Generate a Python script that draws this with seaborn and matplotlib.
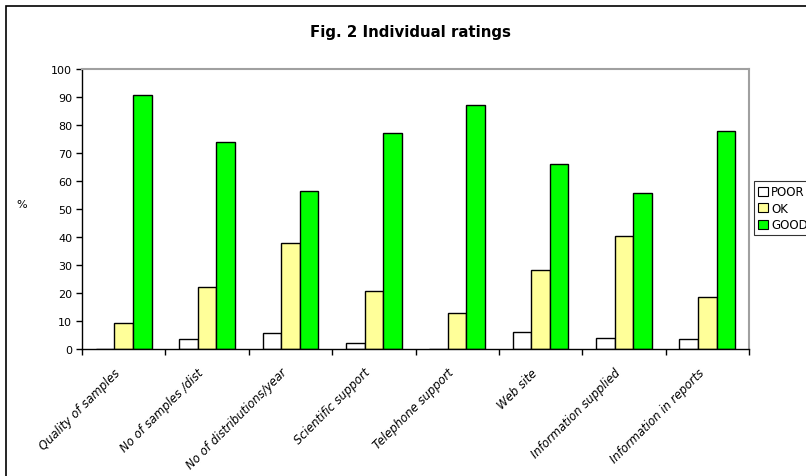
import numpy as np
import pandas as pd
import matplotlib
matplotlib.use('Agg')
import matplotlib.pyplot as plt
import matplotlib.transforms as mtransforms
import seaborn as sns
from matplotlib.patches import Rectangle

# Data
categories = ['Quality of samples', 'No of samples /dist', 'No of distributions/year',
              'Scientific support', 'Telephone support', 'Web site',
              'Information supplied', 'Information in reports']
poor = [0.0, 3.7, 5.6, 2.0, 0.0, 6.1, 3.9, 3.7]
ok = [9.2, 22.1, 37.7, 20.8, 12.7, 28.1, 40.4, 18.6]
good = [90.8, 74.0, 56.5, 77.0, 87.3, 66.0, 55.8, 78.0]
ratings = ['POOR', 'OK', 'GOOD']
colors = ['#ffffff', '#ffff99', '#00ff00']

df = pd.DataFrame({'category': categories * 3,
                   'rating': [r for r in ratings for _ in categories],
                   'value': poor + ok + good})

sns.set_style('white')
plt.rcParams['font.family'] = ['DejaVu Sans']
plt.rcParams.update({'text.color': 'black', 'axes.labelcolor': 'black',
                     'xtick.color': 'black', 'ytick.color': 'black'})

fig = plt.figure(figsize=(8.06, 4.77), dpi=100)
ax = fig.add_axes([82 / 806, 1 - 350 / 477, 667 / 806, 280 / 477])

sns.barplot(data=df, x='category', y='value', hue='rating', hue_order=ratings,
            palette=colors, width=0.67, edgecolor='black', linewidth=1.0,
            saturation=1, ax=ax, legend=False)

ax.set_xlim(-0.5, len(categories) - 0.5)
ax.set_ylim(0, 100)
ax.set_yticks(np.arange(0, 101, 10))
ax.tick_params(axis='y', labelsize=8, direction='out', length=4, width=1, left=True, pad=3)

# ticks at category boundaries, labels at centres
ax.set_xticks(np.arange(-0.5, len(categories), 1.0))
ax.set_xticklabels([])
ax.set_xticks(np.arange(len(categories)), minor=True)
ax.set_xticklabels(categories, minor=True, rotation=45, ha='right',
                   rotation_mode='anchor', fontstyle='italic', fontsize=8.4)
ax.tick_params(axis='x', which='major', direction='out', length=4, width=1, bottom=True)
ax.tick_params(axis='x', which='minor', length=0, pad=12)
shift = mtransforms.ScaledTranslation(-10 / 100, 0, fig.dpi_scale_trans)
for lbl in ax.get_xticklabels(minor=True):
    lbl.set_transform(lbl.get_transform() + shift)

ax.set_xlabel('')
ax.set_ylabel('%', rotation=0, fontsize=8)
ax.yaxis.set_label_coords(-0.09, 0.5)

for side in ['left', 'bottom']:
    ax.spines[side].set_color('black')
    ax.spines[side].set_linewidth(1)
for side in ['top', 'right']:
    ax.spines[side].set_color('#a0a0a0')
    ax.spines[side].set_linewidth(1.5)

fig.text(410 / 806, 1 - 32 / 477, 'Fig. 2 Individual ratings', ha='center', va='center',
         fontsize=10.8, fontweight='bold')

handles = [Rectangle((0, 0), 1, 1, facecolor=c, edgecolor='black', linewidth=0.8) for c in colors]
leg = fig.legend(handles, ratings, loc='upper left', bbox_to_anchor=(754 / 806, 1 - 182 / 477),
                 fontsize=8.5, frameon=True, fancybox=False, handlelength=0.8, handleheight=0.8,
                 handletextpad=0.3, labelspacing=0.3, borderpad=0.35, borderaxespad=0)
leg.get_frame().set_edgecolor('black')
leg.get_frame().set_linewidth(0.8)

# outer chart border (cropped on right and bottom)
fig.patches.append(Rectangle((6 / 806, -0.1), 1.2, 1.1 - 7 / 477, transform=fig.transFigure,
                             fill=False, edgecolor='black', linewidth=1.2))

fig.savefig('out.png', dpi=100)
